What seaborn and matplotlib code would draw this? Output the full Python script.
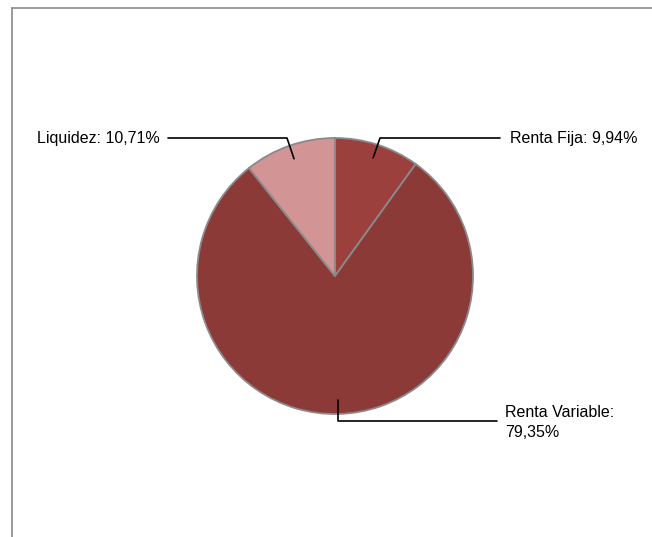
import numpy as np
import seaborn as sns
import matplotlib
matplotlib.use("Agg")
import matplotlib.pyplot as plt

labels = ["Renta Fija", "Renta Variable", "Liquidez"]
values = [9.94, 79.35, 10.71]
colors = ["#9C403E", "#8C3A38", "#D29494"]

sns.set_style("white")
plt.rcParams['font.family'] = ['Liberation Sans', 'DejaVu Sans']
plt.rcParams['text.color'] = 'black'

W, H = 652, 537
fig = plt.figure(figsize=(W / 100, H / 100), dpi=100)
ax = fig.add_axes([0, 0, 1, 1])
ax.set_xlim(0, W)
ax.set_ylim(0, H)
ax.axis('off')

# pie position in pixel units (y measured from bottom)
cx, cy, r = 335, H - 276, 138
wedges, _ = ax.pie(values, colors=colors, startangle=90, counterclock=False,
                   center=(cx, cy), radius=r,
                   wedgeprops=dict(edgecolor="#8a8a8a", linewidth=1.3))
ax.set_xlim(0, W)
ax.set_ylim(0, H)
ax.set_aspect('equal')

def fmt(v):
    return f"{v:.2f}".replace('.', ',') + "%"

# frame lines (top & left)
ax.plot([12, W], [H - 8, H - 8], color="#8a8a8a", lw=1.2)
ax.plot([12, 12], [H - 8, 0], color="#8a8a8a", lw=1.2)

def anchor(w):
    ang = np.deg2rad((w.theta1 + w.theta2) / 2)
    return cx + 0.9 * r * np.cos(ang), cy + 0.9 * r * np.sin(ang)

fs = 11.5
# Renta Fija
x0, y0 = anchor(wedges[0])
ax.plot([x0, 380, 500], [y0, H - 138, H - 138], color="black", lw=1.2)
ax.text(510, H - 138, f"{labels[0]}: {fmt(values[0])}", fontsize=fs,
        ha='left', va='center')
# Renta Variable
x0, y0 = anchor(wedges[1])
ax.plot([x0, x0, 497], [y0, H - 421, H - 421], color="black", lw=1.2)
ax.text(505, H - 422.5, f"{labels[1]}:\n{fmt(values[1])}", fontsize=fs,
        ha='left', va='center', linespacing=1.45)
# Liquidez
x0, y0 = anchor(wedges[2])
ax.plot([x0, 287, 168], [y0, H - 138, H - 138], color="black", lw=1.2)
ax.text(160, H - 138, f"{labels[2]}: {fmt(values[2])}", fontsize=fs,
        ha='right', va='center')

fig.savefig("out.png", dpi=100)
